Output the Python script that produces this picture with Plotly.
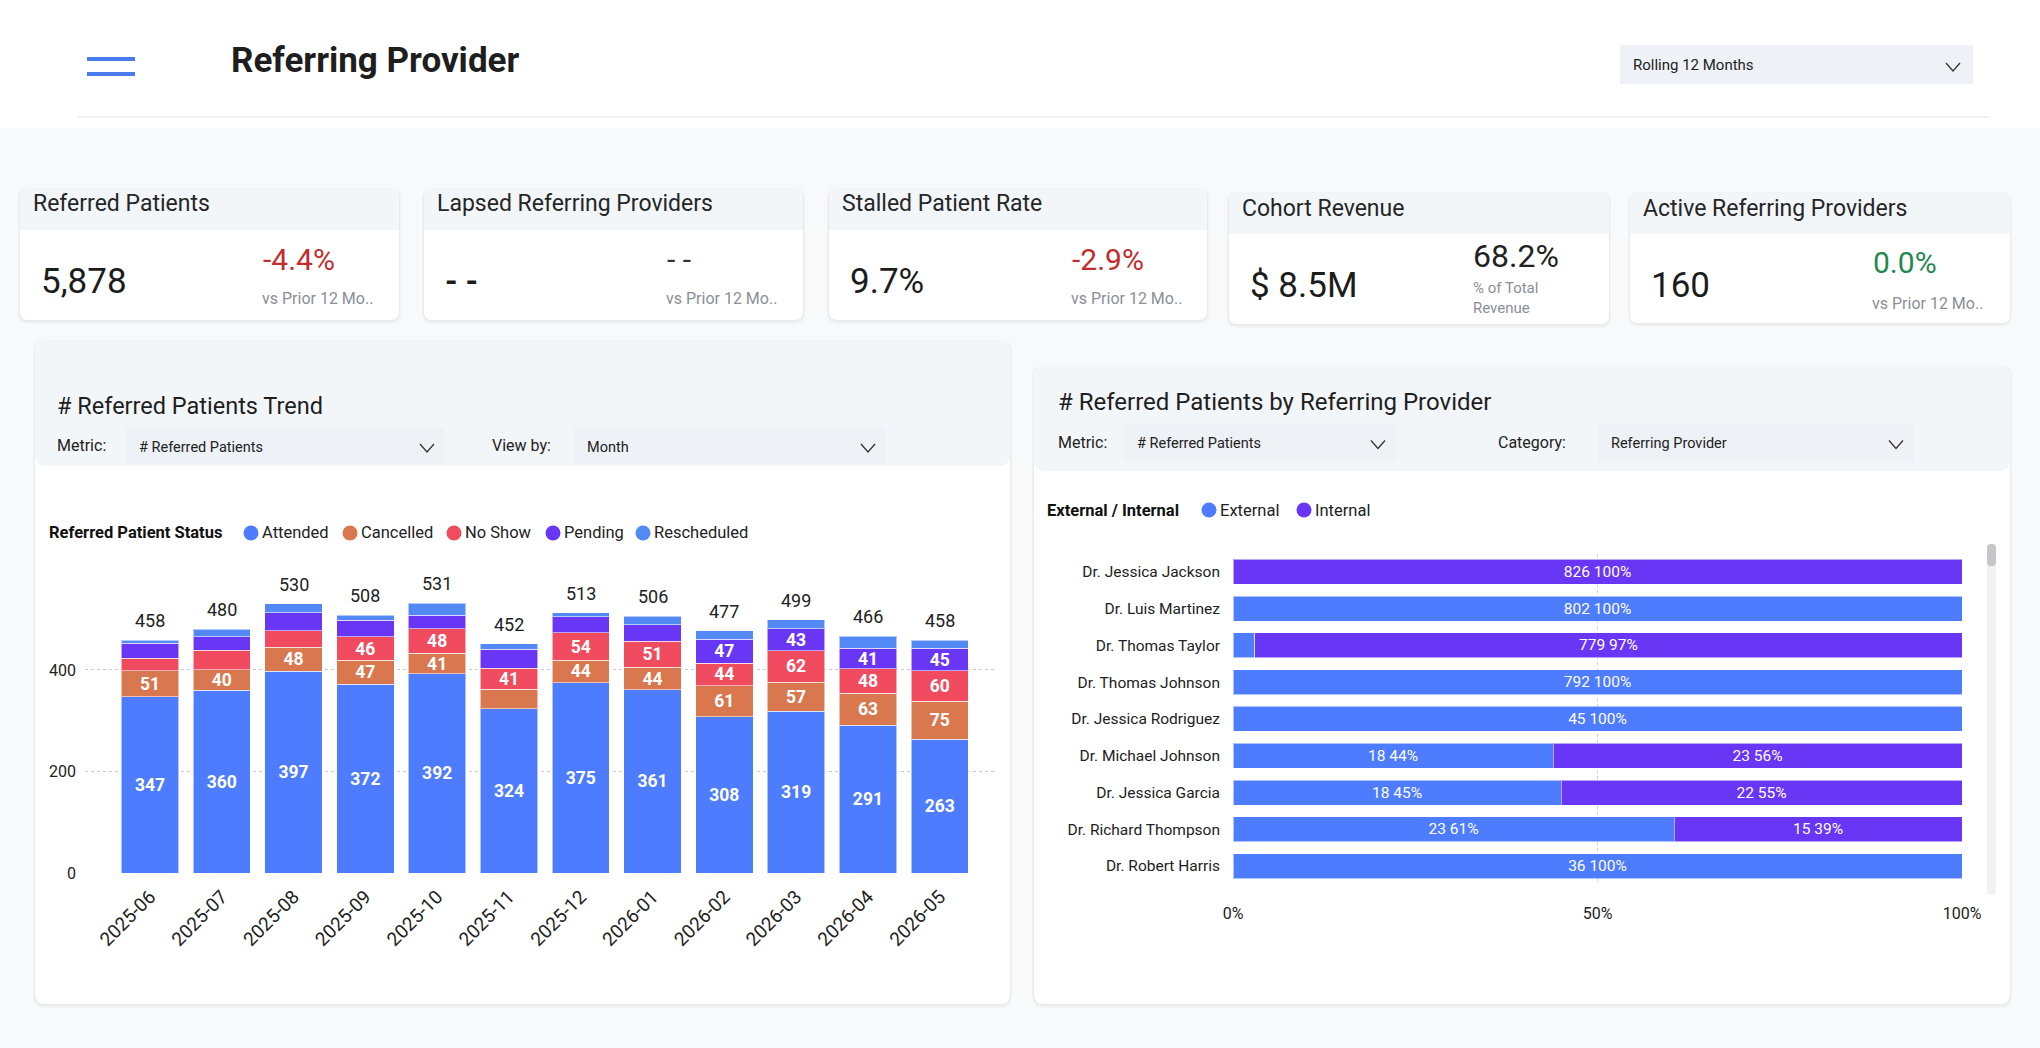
import plotly.graph_objects as go

W, H = 2040, 1048
FONT = "Roboto, 'DejaVu Sans', sans-serif"

# ---------------- data ----------------
months = ["2025-06", "2025-07", "2025-08", "2025-09", "2025-10", "2025-11",
          "2025-12", "2026-01", "2026-02", "2026-03", "2026-04", "2026-05"]
attended = [347, 360, 397, 372, 392, 324, 375, 361, 308, 319, 291, 263]
cancelled = [51, 40, 48, 47, 41, 38, 44, 44, 61, 57, 63, 75]
no_show = [25, 39, 32, 46, 48, 41, 54, 51, 44, 62, 48, 60]
pending = [30, 26, 36, 33, 27, 38, 32, 33, 47, 43, 41, 45]
rescheduled = [5, 15, 17, 10, 23, 11, 8, 17, 17, 18, 23, 15]
status_names = ["Attended", "Cancelled", "No Show", "Pending", "Rescheduled"]
status_colors = ["#4d7cfe", "#d9774f", "#f04b5f", "#6a36f6", "#5289f5"]

providers = ["Dr. Jessica Jackson", "Dr. Luis Martinez", "Dr. Thomas Taylor",
             "Dr. Thomas Johnson", "Dr. Jessica Rodriguez", "Dr. Michael Johnson",
             "Dr. Jessica Garcia", "Dr. Richard Thompson", "Dr. Robert Harris"]
external = [0, 802, 24, 792, 45, 18, 18, 23, 36]
internal = [826, 0, 779, 0, 0, 23, 22, 15, 0]
ext_names = ["External", "Internal"]
ext_colors = ["#4d7cfe", "#6a36f6"]

kpi_titles = ["Referred Patients", "Lapsed Referring Providers", "Stalled Patient Rate",
              "Cohort Revenue", "Active Referring Providers"]
kpi_values = ["5,878", "- -", "9.7%", "$ 8.5M", "160"]
kpi_deltas = ["-4.4%", "- -", "-2.9%", "68.2%", "0.0%"]
kpi_delta_colors = ["#c42b2b", "#333333", "#c42b2b", "#222222", "#1f8a4f"]
kpi_notes = ["vs Prior 12 Mo..", "vs Prior 12 Mo..", "vs Prior 12 Mo..",
             "% of Total<br>Revenue", "vs Prior 12 Mo.."]

# ---------------- helpers ----------------
shapes, annotations = [], []


def P(x, y):
    return f"{x / W:.5f},{1 - y / H:.5f}"


def rpath(x0, y0, x1, y1, r):
    tl, tr, br, bl = r if isinstance(r, (list, tuple)) else (r, r, r, r)
    return (f"M {P(x0 + tl, y0)} L {P(x1 - tr, y0)} Q {P(x1, y0)} {P(x1, y0 + tr)} "
            f"L {P(x1, y1 - br)} Q {P(x1, y1)} {P(x1 - br, y1)} "
            f"L {P(x0 + bl, y1)} Q {P(x0, y1)} {P(x0, y1 - bl)} "
            f"L {P(x0, y0 + tl)} Q {P(x0, y0)} {P(x0 + tl, y0)} Z")


def rect(x0, y0, x1, y1, fill, r=0, layer="below"):
    shapes.append(dict(type="path", path=rpath(x0, y0, x1, y1, r), xref="paper", yref="paper",
                       fillcolor=fill, line=dict(width=0), layer=layer))


def card(x0, y0, x1, y1, r=8, shadow=True):
    if shadow:
        rect(x0 - 2, y0 - 1, x1 + 2, y1 + 4, "rgba(0,0,0,0.025)", r + 2)
        rect(x0 - 1, y0, x1 + 1, y1 + 2, "rgba(0,0,0,0.035)", r + 1)
    rect(x0, y0, x1, y1, "#ffffff", r)


def line(x0, y0, x1, y1, color, width):
    shapes.append(dict(type="line", x0=x0 / W, x1=x1 / W, y0=1 - y0 / H, y1=1 - y1 / H,
                       xref="paper", yref="paper", line=dict(color=color, width=width)))


def chevron(cx, cy):
    shapes.append(dict(type="path", path=f"M {P(cx - 7, cy - 4)} L {P(cx, cy + 4)} L {P(cx + 7, cy - 4)}",
                       xref="paper", yref="paper", line=dict(color="#333333", width=1.3)))


def circle(cx, cy, r, color):
    shapes.append(dict(type="circle", x0=(cx - r) / W, x1=(cx + r) / W, y0=1 - (cy + r) / H,
                       y1=1 - (cy - r) / H, xref="paper", yref="paper", fillcolor=color,
                       line=dict(width=0)))


def txt(x, y, s, size, color="#252525", xa="left", ya="middle", weight="normal", align="left"):
    annotations.append(dict(x=x / W, y=1 - y / H, xref="paper", yref="paper", text=s,
                            showarrow=False, xanchor=xa, yanchor=ya, align=align,
                            font=dict(size=size, color=color, family=FONT, weight=weight)))


def dropdown(x0, y0, x1, y1, label):
    rect(x0, y0, x1, y1, "#eef1f6", 0)
    txt(x0 + 11, (y0 + y1) / 2 + 1, label, 14.5, "#222222")
    chevron(x1 - 18, (y0 + y1) / 2 + 2)


# ---------------- page chrome ----------------
rect(0, 0, W, 128, "#ffffff", 0)
line(87, 59, 135, 59, "#4a7cf0", 4)
line(87, 74, 135, 74, "#4a7cf0", 4)
txt(229, 61, "Referring Provider", 35, "#1e1e1e", weight="bold")
rect(1620, 45, 1973, 84, "#eef1f6", 0)
txt(1631, 65, "Rolling 12 Months", 15, "#222222")
chevron(1953, 67)
line(78, 117, 1990, 117, "#ededed", 1.5)

# ---------------- KPI cards ----------------
cards = [(20, 189, 399, 320, 230), (424, 189, 803, 320, 230), (829, 189, 1207, 320, 230),
         (1229, 193, 1609, 324, 234), (1630, 193, 2010, 323, 234)]
for i, (x0, y0, x1, y1, hb) in enumerate(cards):
    card(x0, y0, x1, y1, 8)
    rect(x0, y0, x1, hb, "#f3f6f9", (8, 8, 0, 0))
    txt(x0 + 11, y0 + 15, kpi_titles[i], 23, "#262626")
    big_dash = kpi_values[i] == "- -"
    txt(x0 + 19, y0 + 92, kpi_values[i], 32 if big_dash else 35, "#1c1c1c",
        weight="bold" if big_dash else "normal")
    if i == 3:
        txt(x0 + 242, y0 + 63, kpi_deltas[i], 32, kpi_delta_colors[i])
        txt(x0 + 242, y0 + 105, kpi_notes[i], 15, "#8a8f98")
    else:
        txt(x0 + 241, y0 + 70, kpi_deltas[i], 30, kpi_delta_colors[i])
        txt(x0 + 240, y0 + 110, kpi_notes[i], 16, "#8a8f98")

# ---------------- panels ----------------
card(35, 341, 1010, 1004, 10)
rect(35, 341, 1010, 466, "#f3f6f9", 12)
card(1034, 366, 2010, 1004, 10)
rect(1034, 366, 2010, 471, "#f3f6f9", 12)

txt(55, 406, "# Referred Patients Trend", 23.5, "#1e1e1e")
txt(55, 445, "Metric:", 16, "#222222")
dropdown(126, 428, 445, 464, "# Referred Patients")
txt(490, 445, "View by:", 16, "#222222")
dropdown(574, 428, 886, 464, "Month")

txt(1056, 402, "# Referred Patients by Referring Provider", 24, "#1e1e1e")
txt(1056, 442, "Metric:", 16, "#222222")
dropdown(1124, 424, 1396, 461, "# Referred Patients")
txt(1496, 442, "Category:", 16, "#222222")
dropdown(1598, 424, 1914, 461, "Referring Provider")

# legends
txt(47, 533, "Referred Patient Status", 16.5, "#111111", weight="bold")
for cx, name, col in zip([251, 350, 454, 553, 643], status_names, status_colors):
    circle(cx, 533, 7.5, col)
    txt(cx + 9, 533, name, 16.5, "#222222")
txt(1045, 510, "External / Internal", 16.5, "#111111", weight="bold")
for cx, name, col in zip([1209, 1304], ext_names, ext_colors):
    circle(cx, 510, 7.5, col)
    txt(cx + 9, 510, name, 16.5, "#222222")

# scrollbar
rect(1987, 544, 1996, 895, "#f1f1f2", 4, layer="above")
rect(1987, 544, 1996, 566, "#c4c6c9", 4, layer="above")

# ---------------- traces ----------------
fig = go.Figure()
series = [attended, cancelled, no_show, pending, rescheduled]
for name, vals, col in zip(status_names, series, status_colors):
    fig.add_trace(go.Bar(
        x=months, y=vals, name=name,
        marker=dict(color=col, line=dict(color="rgba(255,255,255,0.55)", width=1)),
        width=0.8, text=[str(v) if v >= 40 else "" for v in vals], textposition="inside",
        insidetextanchor="middle", constraintext="none", textangle=0,
        textfont=dict(color="#ffffff", size=17.5, family=FONT, weight="bold"),
        xaxis="x", yaxis="y", showlegend=False, hoverinfo="skip"))

# total labels above each stacked column
totals = [sum(t) for t in zip(*series)]
for m, t in zip(months, totals):
    annotations.append(dict(x=m, y=t, xref="x", yref="y", text=str(t), showarrow=False,
                            xanchor="center", yanchor="bottom", yshift=7,
                            font=dict(size=18, color="#222222", family=FONT)))

prov_totals = [e + i for e, i in zip(external, internal)]
for name, vals, col in zip(ext_names, [external, internal], ext_colors):
    pct = [100 * v / t for v, t in zip(vals, prov_totals)]
    fig.add_trace(go.Bar(
        y=providers, x=pct, orientation="h", name=name, width=0.68,
        marker=dict(color=col, line=dict(color="rgba(255,255,255,0.55)", width=1)),
        text=[f"{v} {round(p)}%" if p >= 10 else "" for v, p in zip(vals, pct)],
        textposition="inside", insidetextanchor="middle", constraintext="none", textangle=0,
        textfont=dict(color="#ffffff", size=15.5, family=FONT),
        xaxis="x2", yaxis="y2", showlegend=False, hoverinfo="skip"))

fig.update_layout(
    width=W, height=H, margin=dict(l=0, r=0, t=0, b=0, pad=0, autoexpand=False),
    paper_bgcolor="#f8f9fa", plot_bgcolor="rgba(0,0,0,0)",
    barmode="stack", showlegend=False,
    font=dict(family=FONT, color="#222222"),
    shapes=shapes, annotations=annotations,
    xaxis=dict(domain=[85 / W, 995 / W], anchor="y", type="category", range=[-0.905, 11.77],
               tickangle=-45, tickfont=dict(size=19, color="#222222"), showgrid=False,
               zeroline=False, showline=False, ticks="", ticklabelstandoff=8,
               automargin=False, fixedrange=True),
    yaxis=dict(domain=[1 - 873 / H, 1 - 543 / H], anchor="x", range=[0, 650],
               tickvals=[0, 200, 400], tickfont=dict(size=16, color="#222222"),
               showgrid=True, gridcolor="#c9c9c9", griddash="dot", gridwidth=1,
               zeroline=False, showline=False, ticklabelstandoff=8,
               automargin=False, fixedrange=True),
    xaxis2=dict(domain=[1233 / W, 1962 / W], anchor="y2", range=[0, 100],
                tickvals=[0, 50, 100], ticktext=["0%", "50%", "100%"],
                tickfont=dict(size=16, color="#222222"), showgrid=True, gridcolor="#cfcfcf",
                griddash="dot", gridwidth=1, zeroline=False, showline=False,
                ticklabelstandoff=18, automargin=False, fixedrange=True),
    yaxis2=dict(domain=[1 - 884.4 / H, 1 - 553.6 / H], anchor="x2", type="category",
                autorange="reversed", tickfont=dict(size=15.5, color="#222222"),
                showgrid=False, zeroline=False, showline=False, ticklabelstandoff=12,
                automargin=False, fixedrange=True),
)

fig.write_html("out.html", config={"displayModeBar": False})
